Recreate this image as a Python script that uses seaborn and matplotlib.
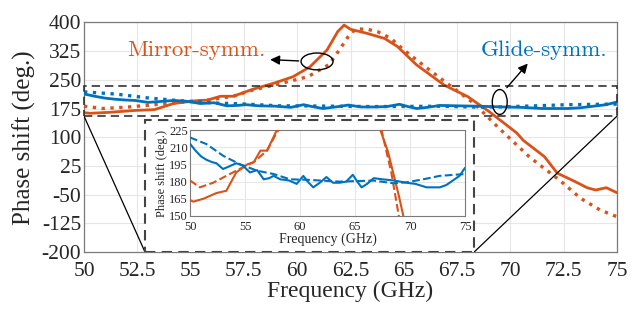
import numpy as np
import pandas as pd
import seaborn as sns
import matplotlib
matplotlib.use("Agg")
import matplotlib.pyplot as plt
from matplotlib.patches import Rectangle, Ellipse

# ---------------- data ----------------
blue_sim_f = [50, 50.5, 51, 51.5, 52, 52.4, 53, 53.5, 54.2, 54.8, 55.45, 56.1, 56.7, 57.2,
              57.6, 58.2, 59, 59.7, 60.3, 60.7, 61.2, 61.8, 62.4, 63, 63.6, 64.2, 64.8,
              65.2, 65.6, 66.1, 66.7, 67.5, 68.5, 69.7, 70.5, 71.5, 72.7, 73.3, 73.9, 74.5, 75]
blue_sim_p = [213, 207, 202, 199, 197, 196, 191, 193, 196, 194, 188, 190, 182, 183,
              185, 182, 181, 178, 185, 180, 175, 179, 184, 179, 179, 180, 186,
              180, 175, 178, 183, 182, 181, 179, 178, 175, 175, 177, 181, 185, 192]

blue_meas_f = [50, 51.5, 53, 54.5, 56.1, 57.6, 59.1, 60.6, 63.6, 66.7, 68.5, 69.7, 71.2, 72.7, 75]
blue_meas_p = [218.5, 212.7, 202.6, 195.3, 189.5, 186.6, 182, 181.6, 180, 180.9, 178.5, 179.4, 182, 185, 186.6]

orange_sim_f = [50, 50.3, 51.2, 52.4, 53.3, 54.2, 55.2, 55.8, 56.4, 57, 57.9, 58.9, 59.8,
                60.6, 61.4, 61.9, 62.2, 62.5, 63.3, 64.1, 64.7, 65.6, 66.9, 68.0, 69.0,
                70.3, 70.6, 71.6, 72.2, 73.0, 73.6, 74.0, 74.5, 75]
orange_sim_p = [164, 162.5, 165, 170, 172, 188, 195, 197, 207, 207, 225, 241, 258,
                284, 328, 376, 393, 382, 371, 358, 337, 289, 236, 206, 167,
                111, 92, 49, 6, -15, -32, -38, -32, -45]

orange_meas_f = [50, 50.9, 52.1, 53.3, 54.5, 55.8, 57, 57.9, 58.9, 60.5, 61.5, 62.0, 62.5,
                 62.8, 63.3, 63.8, 64.4, 65, 65.8, 67, 68.3, 69.4, 70.9, 72.3, 73.3, 74.2, 75]
orange_meas_p = [181, 175, 179, 185, 191, 197, 207, 223, 236, 258, 290, 330, 372,
                 383, 382, 375, 358, 328, 293, 242, 188, 127, 48, -12, -60, -90, -108]

x_ticks = [50, 52.5, 55, 57.5, 60, 62.5, 65, 67.5, 70, 72.5, 75]
x_tick_labels = ["50", "52.5", "55", "57.5", "60", "62.5", "65", "67.5", "70", "72.5", "75"]
y_ticks = [-200, -125, -50, 25, 100, 175, 250, 325, 400]
y_tick_labels = ["-200", "-125", "-50", "25", "100", "175", "250", "325", "400"]
in_x_ticks = [50, 55, 60, 65, 70, 75]
in_y_ticks = [150, 165, 180, 195, 210, 225]

ORANGE = "#D95319"
BLUE = "#0072BD"

sns.set_theme(style="whitegrid")
plt.rcParams["font.family"] = ["Liberation Serif", "DejaVu Serif"]

fig = plt.figure(figsize=(6.37, 3.12), dpi=100)
ax = fig.add_axes([0.1319, 0.1923, 0.8367, 0.7359])

def draw(axis, f, p, color, ls, lw, z=3):
    df = pd.DataFrame({"f": f, "p": p})
    sns.lineplot(data=df, x="f", y="p", ax=axis, color=color, linestyle=ls,
                 linewidth=lw, sort=False, estimator=None, zorder=z, legend=False)

draw(ax, orange_sim_f, orange_sim_p, ORANGE, "-", 2.0)
draw(ax, orange_meas_f, orange_meas_p, ORANGE, ":", 2.4)
draw(ax, blue_sim_f, blue_sim_p, BLUE, "-", 2.0)
draw(ax, blue_meas_f, blue_meas_p, BLUE, ":", 2.4)

ax.set_xlim(50, 75)
ax.set_ylim(-200, 400)
ax.set_xticks(x_ticks)
ax.set_xticklabels(x_tick_labels)
ax.set_yticks(y_ticks)
ax.set_yticklabels(y_tick_labels)
ax.tick_params(labelsize=15.5, direction="in", length=3, color="#666666")
ax.tick_params(axis="x", pad=7)
ax.tick_params(axis="y", pad=2)
ax.set_xlabel("Frequency (GHz)", fontsize=17, labelpad=0)
ax.set_ylabel("Phase shift (deg.)", fontsize=18, labelpad=4)
ax.set_facecolor("white")
ax.grid(True, color="#e6e6e6", linewidth=0.8)
for s in ax.spines.values():
    s.set_color("#7a7a7a")
    s.set_linewidth(0.9)

# zoom box
ax.add_patch(Rectangle((50, 155), 25, 78, fill=False, edgecolor="#333333",
                       linestyle=(0, (5, 3)), linewidth=1.2, zorder=5, clip_on=False))
# inset frame
ax.add_patch(Rectangle((52.86, -200), 68.3 - 52.86, 345, facecolor="white",
                       edgecolor="#444444", linestyle=(0, (5, 3)), linewidth=1.5, zorder=6))
ax.plot([50, 52.86], [155, -200], color="black", linewidth=0.9, zorder=4)
ax.plot([75, 68.3], [155, -200], color="black", linewidth=0.9, zorder=4)

# annotations
cm = "cmr10"
ax.text(55.25, 328, "Mirror-symm.", color=ORANGE, fontsize=16.5, family=cm,
        ha="center", va="center", zorder=7)
ax.text(71.6, 328, "Glide-symm.", color=BLUE, fontsize=16.5, family=cm,
        ha="center", va="center", zorder=7)
ax.add_patch(Ellipse((60.93, 298), 1.5, 44, fill=False, edgecolor="black", linewidth=1.0, zorder=7))
ax.add_patch(Ellipse((69.5, 192), 0.7, 65, fill=False, edgecolor="black", linewidth=1.0, zorder=7))
ax.annotate("", xy=(58.6, 303), xytext=(60.2, 299),
            arrowprops=dict(arrowstyle="-|>", color="black", lw=1.0, mutation_scale=14), zorder=7)
ax.annotate("", xy=(70.9, 298), xytext=(69.75, 224),
            arrowprops=dict(arrowstyle="-|>", color="black", lw=1.0, mutation_scale=14), zorder=7)

# inset
axi = fig.add_axes([0.2983, 0.3077, 0.4317, 0.2756])
axi.set_zorder(10)
draw(axi, orange_sim_f, orange_sim_p, ORANGE, "-", 1.5)
draw(axi, orange_meas_f, orange_meas_p, ORANGE, "--", 1.5)
draw(axi, blue_sim_f, blue_sim_p, BLUE, "-", 1.5)
draw(axi, blue_meas_f, blue_meas_p, BLUE, "--", 1.5)
axi.set_xlim(50, 75)
axi.set_ylim(150, 225)
axi.set_xticks(in_x_ticks)
axi.set_yticks(in_y_ticks)
axi.set_facecolor("white")
axi.grid(True, color="#e6e6e6", linewidth=0.7)
axi.tick_params(labelsize=9, direction="in", length=2)
axi.tick_params(axis="x", pad=3.5)
axi.tick_params(axis="y", pad=1.5)
axi.set_xlabel("Frequency (GHz)", fontsize=10, labelpad=0)
axi.set_ylabel("Phase shift (deg.)", fontsize=9, labelpad=1)
for s in axi.spines.values():
    s.set_color("#7a7a7a")
    s.set_linewidth(0.8)

fig.savefig("out.png", dpi=100)
